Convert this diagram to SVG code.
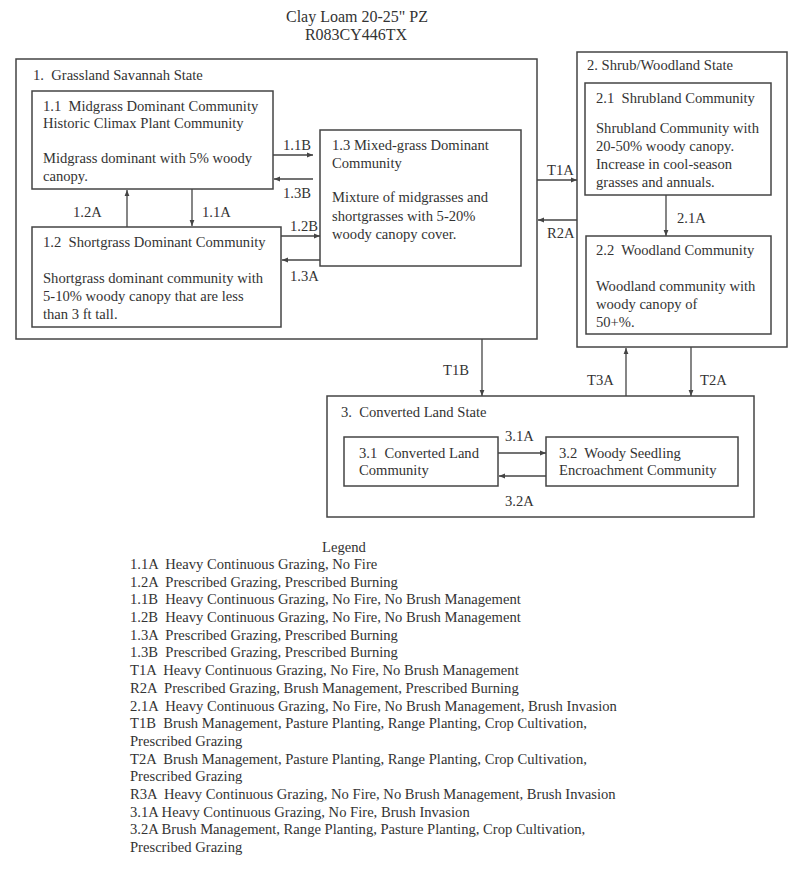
<svg xmlns="http://www.w3.org/2000/svg" width="800" height="870" viewBox="0 0 800 870">
<style>
text{font-family:"Liberation Serif","Times New Roman",serif;fill:#333;font-size:14.6px;white-space:pre}
.box{fill:#fff;stroke:#444;stroke-width:1.5}
.ln{stroke:#444;stroke-width:1.3;fill:none}
.t{font-size:16px}
.lg{font-size:14.6px}
</style>
<defs>
<marker id="ah" viewBox="0 0 10 10" refX="10" refY="5" markerWidth="6" markerHeight="6" orient="auto" markerUnits="userSpaceOnUse">
<path d="M0,1 L10,5 L0,9 z" fill="#444"/>
</marker>
</defs>
<rect width="800" height="870" fill="#fff"/>
<g id="title">
<text class="t" x="357" y="22" text-anchor="middle">Clay Loam 20-25" PZ</text>
<text class="t" x="356" y="40" text-anchor="middle">R083CY446TX</text>
</g>
<g id="state1">
<rect class="box" x="16" y="59" width="521" height="280"/>
<text x="33" y="80">1.  Grassland Savannah State</text>
</g>
<g id="n11">
<rect class="box" x="32" y="91" width="241" height="98"/>
<text x="43" y="111">1.1  Midgrass Dominant Community</text>
<text x="43" y="128">Historic Climax Plant Community</text>
<text x="43" y="163">Midgrass dominant with 5% woody</text>
<text x="43" y="181">canopy.</text>
</g>
<g id="n12">
<rect class="box" x="32" y="227" width="249" height="100"/>
<text x="43" y="247">1.2  Shortgrass Dominant Community</text>
<text x="43" y="283">Shortgrass dominant community with</text>
<text x="43" y="301">5-10% woody canopy that are less</text>
<text x="43" y="319">than 3 ft tall.</text>
</g>
<g id="n13">
<rect class="box" x="320" y="130" width="201" height="136"/>
<text x="332" y="150">1.3 Mixed-grass Dominant</text>
<text x="332" y="168">Community</text>
<text x="332" y="202">Mixture of midgrasses and</text>
<text x="332" y="221">shortgrasses with 5-20%</text>
<text x="332" y="239">woody canopy cover.</text>
</g>
<g id="state2">
<rect class="box" x="577" y="52" width="210" height="295"/>
<text x="587" y="70">2. Shrub/Woodland State</text>
</g>
<g id="n21">
<rect class="box" x="585" y="83" width="186" height="112"/>
<text x="596" y="103">2.1  Shrubland Community</text>
<text x="596" y="133">Shrubland Community with</text>
<text x="596" y="151">20-50% woody canopy.</text>
<text x="596" y="169">Increase in cool-season</text>
<text x="596" y="187">grasses and annuals.</text>
</g>
<g id="n22">
<rect class="box" x="586" y="236" width="185" height="98"/>
<text x="596" y="255">2.2  Woodland Community</text>
<text x="596" y="291">Woodland community with</text>
<text x="596" y="309">woody canopy of</text>
<text x="596" y="327">50+%.</text>
</g>
<g id="state3">
<rect class="box" x="327" y="396" width="427" height="121"/>
<text x="341" y="417">3.  Converted Land State</text>
</g>
<g id="n31">
<rect class="box" x="344" y="437" width="154" height="49"/>
<text x="359" y="458">3.1  Converted Land</text>
<text x="359" y="475">Community</text>
</g>
<g id="n32">
<rect class="box" x="546" y="437" width="192" height="49"/>
<text x="559" y="458">3.2  Woody Seedling</text>
<text x="559" y="475">Encroachment Community</text>
</g>
<g id="connectors">
<line class="ln" x1="127" y1="227" x2="127" y2="190" marker-end="url(#ah)"/>
<text x="73" y="217">1.2A</text>
<line class="ln" x1="192" y1="189" x2="192" y2="226" marker-end="url(#ah)"/>
<text x="202" y="217">1.1A</text>
<line class="ln" x1="273" y1="155" x2="313" y2="155" marker-end="url(#ah)"/>
<text x="283" y="150">1.1B</text>
<line class="ln" x1="313" y1="179" x2="274" y2="179" marker-end="url(#ah)"/>
<text x="283" y="198">1.3B</text>
<line class="ln" x1="281" y1="236" x2="320" y2="236" marker-end="url(#ah)"/>
<text x="290" y="231">1.2B</text>
<line class="ln" x1="320" y1="260" x2="282" y2="260" marker-end="url(#ah)"/>
<text x="290" y="281">1.3A</text>
<line class="ln" x1="537" y1="180" x2="577" y2="180" marker-end="url(#ah)"/>
<text x="547" y="175">T1A</text>
<line class="ln" x1="577" y1="220" x2="538" y2="220" marker-end="url(#ah)"/>
<text x="547" y="238">R2A</text>
<line class="ln" x1="666" y1="195" x2="666" y2="236" marker-end="url(#ah)"/>
<text x="677" y="223">2.1A</text>
<line class="ln" x1="482" y1="339" x2="482" y2="396" marker-end="url(#ah)"/>
<text x="443" y="375">T1B</text>
<line class="ln" x1="626" y1="396" x2="626" y2="348" marker-end="url(#ah)"/>
<text x="587" y="385">T3A</text>
<line class="ln" x1="691" y1="347" x2="691" y2="396" marker-end="url(#ah)"/>
<text x="700" y="385">T2A</text>
<line class="ln" x1="498" y1="453" x2="546" y2="453" marker-end="url(#ah)"/>
<text x="505" y="441">3.1A</text>
<line class="ln" x1="546" y1="476" x2="499" y2="476" marker-end="url(#ah)"/>
<text x="505" y="506">3.2A</text>
</g>
<g id="legend">
<text class="lg" x="344" y="552" text-anchor="middle">Legend</text>
<text class="lg" x="130" y="569">1.1A  Heavy Continuous Grazing, No Fire</text>
<text class="lg" x="130" y="587">1.2A  Prescribed Grazing, Prescribed Burning</text>
<text class="lg" x="130" y="604">1.1B  Heavy Continuous Grazing, No Fire, No Brush Management</text>
<text class="lg" x="130" y="622">1.2B  Heavy Continuous Grazing, No Fire, No Brush Management</text>
<text class="lg" x="130" y="640">1.3A  Prescribed Grazing, Prescribed Burning</text>
<text class="lg" x="130" y="657">1.3B  Prescribed Grazing, Prescribed Burning</text>
<text class="lg" x="130" y="675">T1A  Heavy Continuous Grazing, No Fire, No Brush Management</text>
<text class="lg" x="130" y="693">R2A  Prescribed Grazing, Brush Management, Prescribed Burning</text>
<text class="lg" x="130" y="711">2.1A  Heavy Continuous Grazing, No Fire, No Brush Management, Brush Invasion</text>
<text class="lg" x="130" y="728">T1B  Brush Management, Pasture Planting, Range Planting, Crop Cultivation,</text>
<text class="lg" x="130" y="746">Prescribed Grazing</text>
<text class="lg" x="130" y="764">T2A  Brush Management, Pasture Planting, Range Planting, Crop Cultivation,</text>
<text class="lg" x="130" y="781">Prescribed Grazing</text>
<text class="lg" x="130" y="799">R3A  Heavy Continuous Grazing, No Fire, No Brush Management, Brush Invasion</text>
<text class="lg" x="130" y="817">3.1A Heavy Continuous Grazing, No Fire, Brush Invasion</text>
<text class="lg" x="130" y="834">3.2A Brush Management, Range Planting, Pasture Planting, Crop Cultivation,</text>
<text class="lg" x="130" y="852">Prescribed Grazing</text>
</g>
</svg>
